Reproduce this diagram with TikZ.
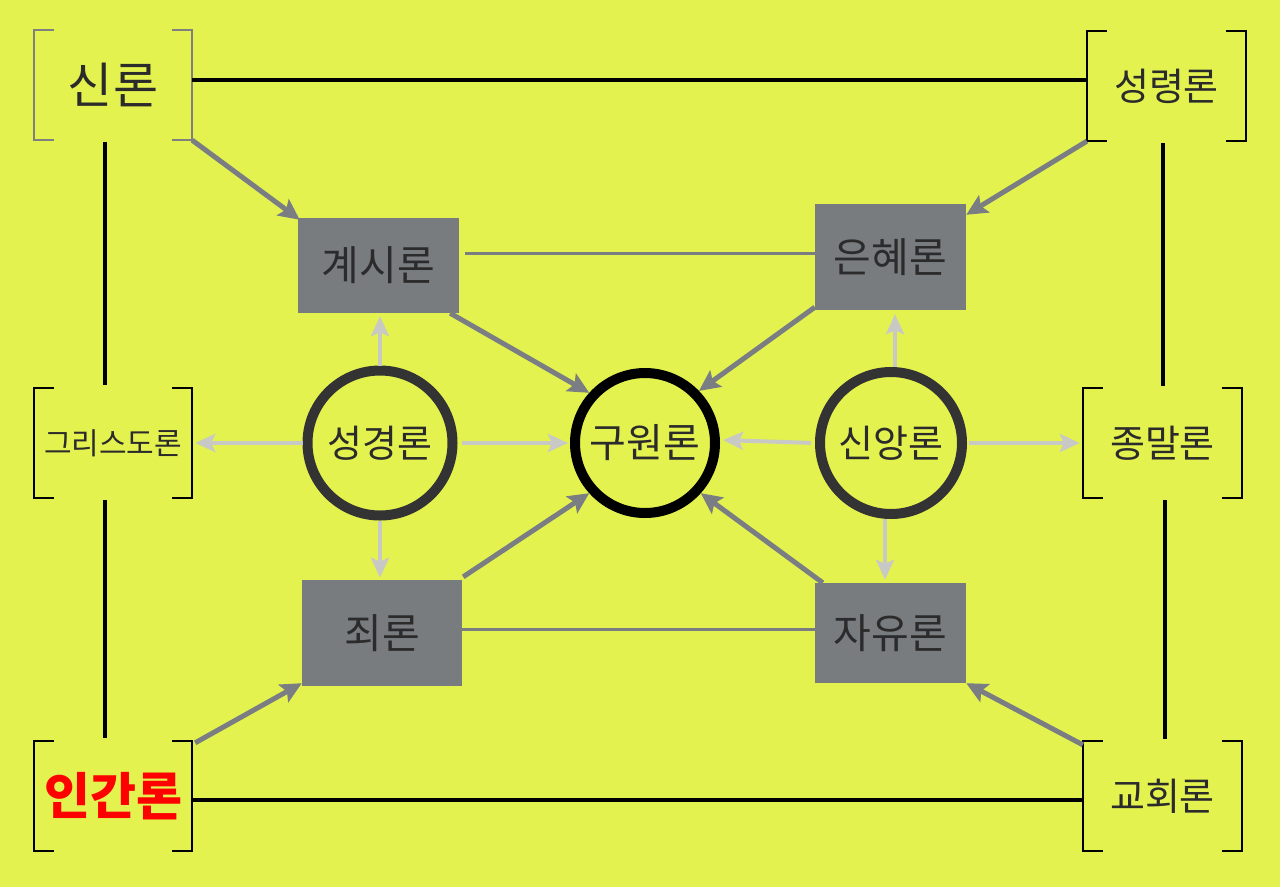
\documentclass[tikz,border=0pt]{standalone}
\usepackage{fontspec}
\newfontfamily\kr{Noto Sans CJK KR}
\usetikzlibrary{arrows.meta}
\definecolor{bg}{HTML}{E4F250}
\definecolor{boxfill}{HTML}{787C7F}
\definecolor{darkarrow}{HTML}{7A7E82}
\definecolor{lightarrow}{HTML}{C8C9C4}
\definecolor{txt}{HTML}{2B2B2B}
\definecolor{ring}{HTML}{333333}
\begin{document}
\begin{tikzpicture}[x=1pt,y=-1pt,
  corner/.style={minimum width=158pt,minimum height=110pt,inner sep=0pt,text=txt},
  bracket/.style={draw=black,line width=1.5pt},
  grbox/.style={fill=boxfill,draw=none,inner sep=0pt,text=txt,font=\kr\fontsize{41}{45}\selectfont},
  ringnode/.style={circle,draw=ring,line width=10pt,inner sep=0pt,text=txt,font=\kr\fontsize{38}{42}\selectfont},
  mainline/.style={draw=black,line width=4pt},
  boxlink/.style={draw=darkarrow,line width=3pt},
  darr/.style={draw=darkarrow,line width=5pt,-{Stealth[length=21pt,width=20pt,inset=4pt]}},
  larr/.style={draw=lightarrow,line width=4pt,-{Stealth[length=20pt,width=18pt,inset=4pt]}}
]
\fill[bg] (0,0) rectangle (1280,887);
\useasboundingbox (0,0) rectangle (1280,887);

% corner nodes
\node[corner,font=\kr\fontsize{49}{53}\selectfont] (sin) at (113,85) {신론};
\node[corner,minimum width=159pt,font=\kr\fontsize{38}{42}\selectfont] (sr) at (1166.5,86) {성령론};
\node[corner,font=\kr\fontsize{30}{34}\selectfont] (gd) at (113,443) {그리스도론};
\node[corner,minimum width=159pt,font=\kr\fontsize{38}{42}\selectfont] (jm) at (1162.5,443) {종말론};
\node[corner,font=\kr\bfseries\fontsize{50}{54}\selectfont,text=red] (ig) at (113,796) {인간론};
\node[corner,minimum width=159pt,font=\kr\fontsize{38}{42}\selectfont] (gh) at (1162.5,796) {교회론};

% brackets
\draw[bracket,draw=gray] ([xshift=20pt]sin.north west) -- (sin.north west) -- (sin.south west) -- ([xshift=20pt]sin.south west);
\draw[bracket,draw=gray] ([xshift=-20pt]sin.north east) -- (sin.north east) -- (sin.south east) -- ([xshift=-20pt]sin.south east);
\foreach \n in {sr,gd,jm,ig,gh}{
  \draw[bracket] ([xshift=20pt]\n.north west) -- (\n.north west) -- (\n.south west) -- ([xshift=20pt]\n.south west);
  \draw[bracket] ([xshift=-20pt]\n.north east) -- (\n.north east) -- (\n.south east) -- ([xshift=-20pt]\n.south east);
}

% grey boxes
\node[grbox,minimum width=161pt,minimum height=95pt] (gs) at (378.5,265.5) {계시론};
\node[grbox,minimum width=151pt,minimum height=106pt] (eh) at (890.5,257) {은혜론};
\node[grbox,minimum width=160pt,minimum height=106pt] (jr) at (382,633) {죄론};
\node[grbox,minimum width=151pt,minimum height=100pt] (jy) at (890.5,633) {자유론};

% circles
\node[ringnode,minimum size=145pt] (sg) at (380,443) {성경론};
\node[ringnode,draw=black,minimum size=140pt,font=\kr\fontsize{40}{44}\selectfont] (gw) at (645,443) {구원론};
\node[ringnode,minimum size=142pt] (sa) at (891,443) {신앙론};

% black frame lines
\draw[mainline] ([yshift=5pt]sin.east) -- ([yshift=6pt]sr.west);
\draw[mainline] ([yshift=-4pt]ig.east) -- ([yshift=-4pt]gh.west);
\draw[mainline,shorten <=2pt,shorten >=3pt] ([xshift=-8pt]sin.south) -- ([xshift=-8pt]gd.north);
\draw[mainline,shorten <=2pt,shorten >=3pt] ([xshift=-8pt]gd.south) -- ([xshift=-8pt]ig.north);
\draw[mainline,shorten <=2pt,shorten >=2pt] (jm.north |- sr.south) -- (jm.north);
\draw[mainline,shorten <=2pt,shorten >=2pt] ([xshift=2pt]jm.south) -- ([xshift=2pt]gh.north);

% links between boxes
\draw[boxlink] ([xshift=6pt,yshift=12.5pt]gs.east) -- ([yshift=4pt]eh.west);
\draw[boxlink] ([yshift=4pt]jr.east) -- ([yshift=4pt]jy.west);

% dark arrows
\draw[darr] (sin.south east) -- ([xshift=2pt,yshift=-2pt]gs.north west);
\draw[darr] (sr.south west) -- ([yshift=-11pt]eh.north east);
\draw[darr] ([xshift=3pt,yshift=-2pt]ig.north east) -- ([yshift=3pt]jr.south west);
\draw[darr] ([yshift=-4pt]gh.north west) -- (jy.south east);
\draw[darr] ([xshift=-9pt]gs.south east) -- (gw.138);
\draw[darr] ([yshift=3pt]eh.south west) -- (gw.44);
\draw[darr] ([xshift=1pt,yshift=3pt]jr.north east) -- (gw.222);
\draw[darr] ([xshift=8pt]jy.north west) -- (gw.318);

% light arrows
\draw[larr,shorten >=3pt] (sg.north) -- (sg.north |- gs.south);
\draw[larr,shorten >=2pt] (sg.south) -- (sg.south |- jr.north);
\draw[larr,shorten >=3pt] (sg.west) -- (gd.east);
\draw[larr,shorten <=4pt,shorten >=2pt] (sg.east) -- (gw.west);
\draw[larr,shorten >=4pt] ([xshift=4pt]sa.north) -- ([xshift=4pt]sa.north |- eh.south);
\draw[larr,shorten >=3pt] ([xshift=-6pt]sa.south) -- ([xshift=-6pt]sa.south |- jy.north);
\draw[larr,shorten <=4pt,shorten >=3pt] (sa.west) -- ([yshift=3pt]gw.east);
\draw[larr,shorten <=2pt,shorten >=3pt] (sa.east) -- (jm.west);
\end{tikzpicture}
\end{document}
